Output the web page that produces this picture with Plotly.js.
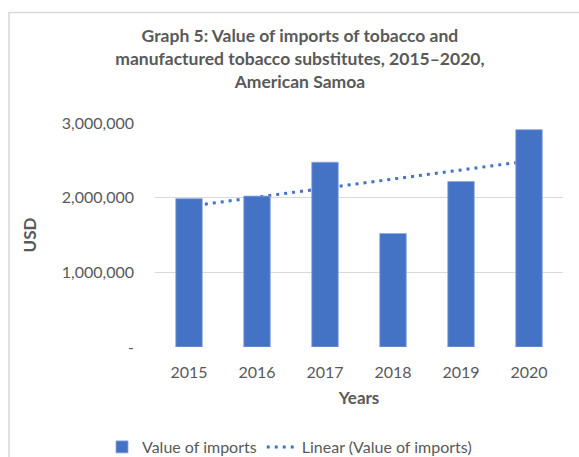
<!DOCTYPE html>
<html>
<head>
<meta charset="utf-8">
<script src="https://cdn.plot.ly/plotly-3.0.1.min.js"></script>
<style>html,body{margin:0;padding:0;background:#fff;}#chart{width:579px;height:457px;}</style>
</head>
<body>
<div id="chart"></div>
<script>
const years = ["2015", "2016", "2017", "2018", "2019", "2020"];
const importValues = [1987000, 2021000, 2475000, 1520000, 2217000, 2911000];
const yTickValues = [0, 1000000, 2000000, 3000000];
const yTickLabels = ["-", "1,000,000", "2,000,000", "3,000,000"];

// Linear (least-squares) trendline, as Excel computes it from the series
const n = importValues.length;
const xs = importValues.map((_, i) => i + 1);
const mx = xs.reduce((a, b) => a + b, 0) / n;
const my = importValues.reduce((a, b) => a + b, 0) / n;
let sxy = 0, sxx = 0;
for (let i = 0; i < n; i++) { sxy += (xs[i] - mx) * (importValues[i] - my); sxx += (xs[i] - mx) ** 2; }
const slope = sxy / sxx, intercept = my - slope * mx;
const trend = xs.map(x => intercept + slope * x);

const font = "Lato, 'Open Sans', sans-serif";
const grey = "#595959";
const blue = "#4472C4";

const data = [
  {type: "bar", x: years, y: importValues, name: "Value of imports", xaxis: "x", yaxis: "y2",
   marker: {color: blue, line: {color: "#8FAADC", width: 0.8}}, width: 0.39, hoverinfo: "y"},
  {type: "scatter", mode: "lines", x: years, y: trend, name: "Linear (Value of imports)", xaxis: "x", yaxis: "y",
   line: {color: blue, width: 3, dash: "3px,5px"}}
];

const layout = {
  width: 579, height: 457,
  margin: {l: 155, r: 16, t: 123, b: 110},
  paper_bgcolor: "#fff", plot_bgcolor: "#fff",
  font: {family: font, color: grey, size: 16},
  title: {
    text: "<b>Graph 5: Value of imports of tobacco and<br>manufactured tobacco substitutes, 2015–2020,<br>American Samoa</b>",
    font: {family: font, size: 17.5, color: grey},
    x: 0.518, xanchor: "center", xref: "container",
    y: 1 - 42 / 457, yanchor: "middle", yref: "container"
  },
  xaxis: {
    type: "category", showgrid: false, zeroline: false, showline: false, ticks: "",
    tickfont: {family: font, size: 16, color: grey},
    ticklabelstandoff: 14,
    title: {text: "<b>Years</b>", font: {family: font, size: 17, color: grey}, standoff: 12}
  },
  yaxis: {
    range: [0, 3000000], tickvals: yTickValues, ticktext: yTickLabels,
    showgrid: true, gridcolor: "#D9D9D9", gridwidth: 1.3, zeroline: false, showline: false, ticks: "",
    tickfont: {family: font, size: 16, color: grey}, ticklabelstandoff: 20,
    title: {text: "<b>USD</b>", font: {family: font, size: 17, color: grey}, standoff: 20}
  },
  yaxis2: {
    overlaying: "y", matches: "y", range: [0, 3000000], showgrid: false, zeroline: false,
    showticklabels: false, showline: false, ticks: ""
  },
  showlegend: true,
  legend: {
    orientation: "h", x: 0.5, xanchor: "center", xref: "container", y: 10 / 457, yanchor: "middle", yref: "container",
    font: {family: font, size: 16, color: grey}, traceorder: "normal"
  },
  shapes: [
    {type: "rect", xref: "paper", yref: "paper", x0: -146 / 408, x1: 430 / 408, y0: -130 / 224.6, y1: 335.5 / 224.6,
     line: {color: "#D9D9D9", width: 1.5}, fillcolor: "rgba(0,0,0,0)", layer: "below"}
  ]
};

Plotly.newPlot("chart", data, layout, {displayModeBar: false, staticPlot: true});
</script>
</body>
</html>
